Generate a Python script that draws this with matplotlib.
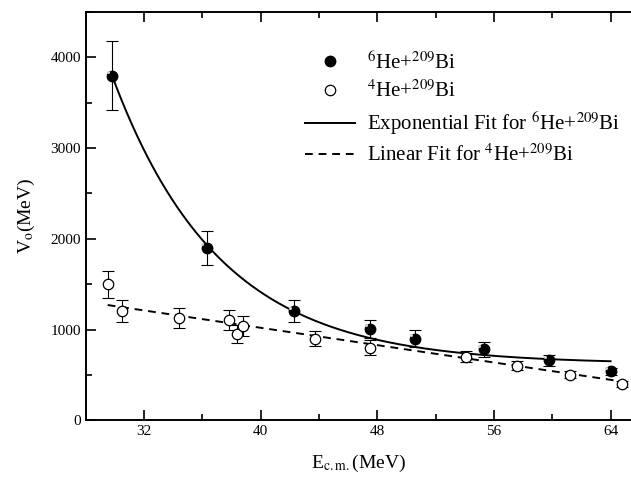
import numpy as np
import matplotlib
matplotlib.use("Agg")
import matplotlib.pyplot as plt
from matplotlib.ticker import MultipleLocator

plt.rcParams['font.family'] = ['Liberation Serif', 'DejaVu Serif']
plt.rcParams['mathtext.fontset'] = 'stix'

# 6He + 209Bi
he6_e = [29.8, 36.3, 42.3, 47.5, 50.6, 55.3, 59.8, 64.0]
he6_v = [3800, 1900, 1200, 1005, 900, 780, 660, 540]
he6_err = [380, 190, 120, 100, 90, 80, 60, 40]

# 4He + 209Bi
he4_e = [29.5, 30.5, 34.4, 37.85, 38.4, 38.75, 43.7, 47.5, 54.1, 57.6, 61.2, 64.8]
he4_v = [1500, 1200, 1130, 1100, 950, 1040, 900, 800, 700, 600, 500, 400]
he4_err = [150, 120, 110, 110, 100, 110, 85, 80, 60, 50, 40, 30]

# fit parameters
exp_y0, exp_a, exp_x0, exp_t = 620, 3180, 29.8, 7.34
lin_a, lin_b = 1975, -23.9

fig = plt.figure(figsize=(6.31, 4.83), dpi=100)
ax = fig.add_axes([0.136, 0.130, 0.864, 0.845])

xf = np.linspace(29.8, 64.0, 300)
ax.plot(xf, exp_y0 + exp_a * np.exp(-(xf - exp_x0) / exp_t), color='black', lw=1.4,
        label=r'Exponential Fit for $^{6}$He+$^{209}$Bi')
xl = np.linspace(29.5, 65.4, 50)
ax.plot(xl, lin_a + lin_b * xl, color='black', lw=1.4, ls=(0, (4, 3)),
        label=r'Linear Fit for $^{4}$He+$^{209}$Bi')

ax.errorbar(he6_e, he6_v, yerr=he6_err, fmt='none', ecolor='black', elinewidth=0.8,
            capsize=4, capthick=0.8)
ax.errorbar(he4_e, he4_v, yerr=he4_err, fmt='none', ecolor='black', elinewidth=0.8,
            capsize=4, capthick=0.8)
ax.plot(he6_e, he6_v, 'o', ms=7.5, mfc='black', mec='black', label=r'$^{6}$He+$^{209}$Bi')
# little highlight on the balls
ax.plot(np.array(he6_e) - 0.3, np.array(he6_v) + 40, 'o', ms=2.2, mfc='#d0d0d0', mec='none')
ax.plot(he4_e, he4_v, 'o', ms=7.5, mfc='white', mec='black', mew=0.9, label=r'$^{4}$He+$^{209}$Bi')

ax.set_xlim(28, 65.4)
ax.set_ylim(0, 4500)
ax.xaxis.set_major_locator(MultipleLocator(8))
ax.xaxis.set_minor_locator(MultipleLocator(4))
ax.yaxis.set_major_locator(MultipleLocator(1000))
ax.yaxis.set_minor_locator(MultipleLocator(500))
ax.tick_params(which='both', direction='in', top=True, right=False, width=1.2, labelsize=11)
ax.tick_params(which='major', length=7)
ax.tick_params(which='minor', length=4)
for s in ['left', 'bottom', 'top']:
    ax.spines[s].set_linewidth(1.4)
ax.spines['right'].set_visible(False)

ax.set_xlabel(r'E$_{\rm c.m.}$(MeV)', fontsize=14, labelpad=11)
ax.set_ylabel(r'V$_{\rm o}$(MeV)', fontsize=14, labelpad=10)

handles, labels = ax.get_legend_handles_labels()
order = [2, 3, 0, 1]
ax.legend([handles[i] for i in order], [labels[i] for i in order], loc='upper right',
          bbox_to_anchor=(1.004, 0.935), frameon=False, fontsize=15, handlelength=2.4,
          handletextpad=0.6, labelspacing=0.35, borderaxespad=0.2)

fig.savefig('out.png', dpi=100)
